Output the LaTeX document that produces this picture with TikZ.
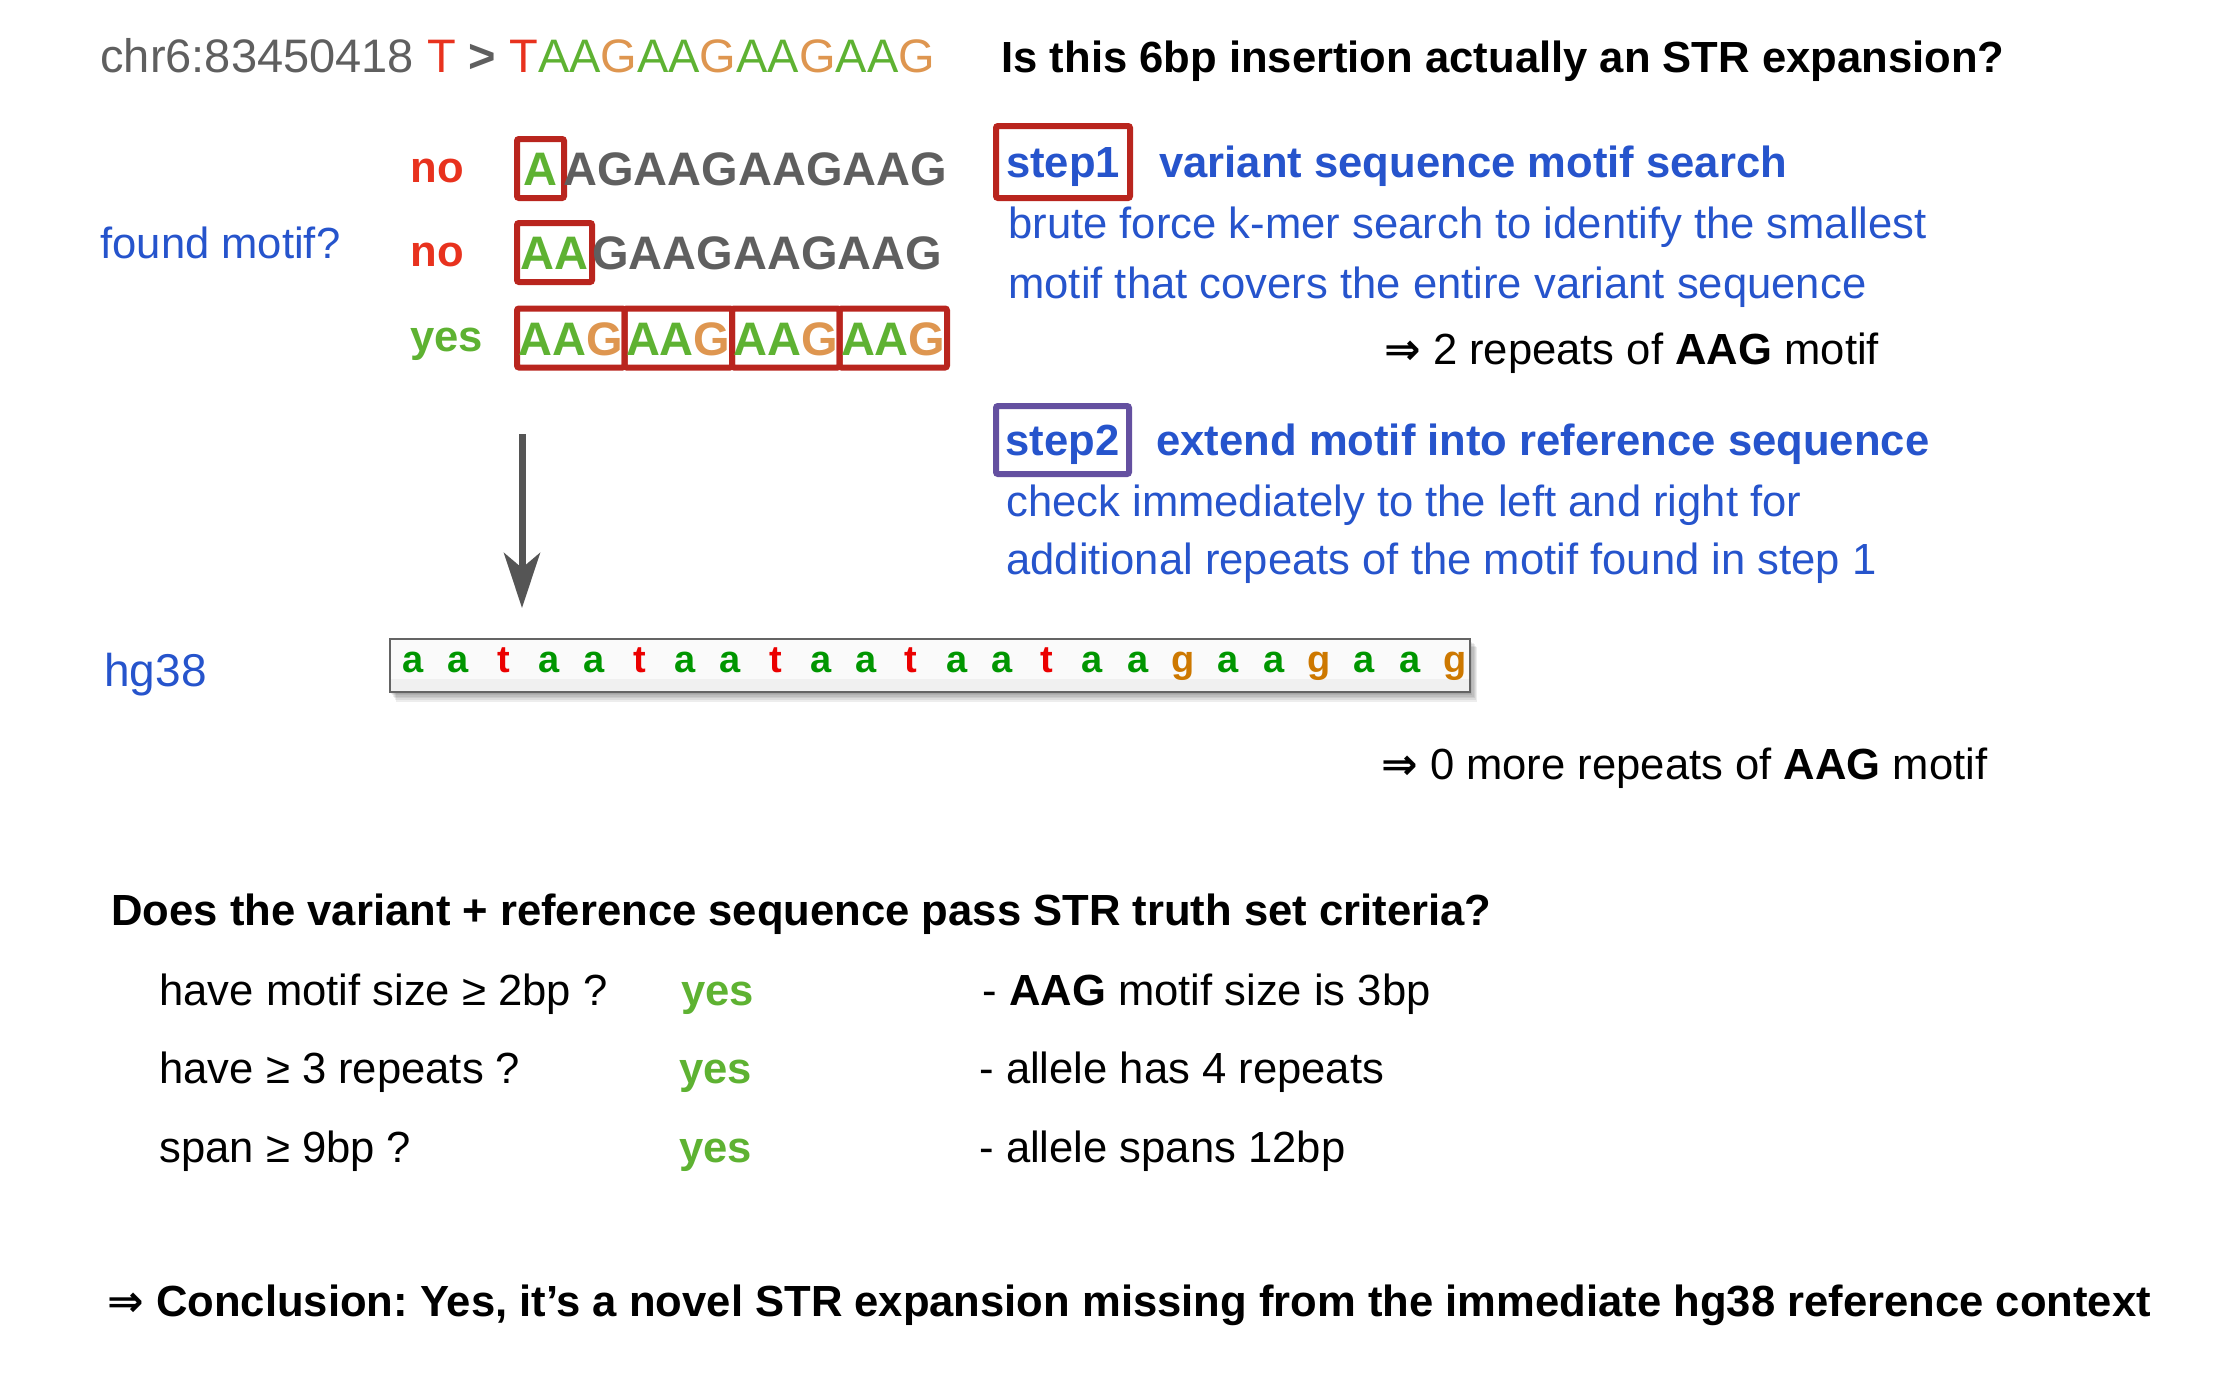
\documentclass[tikz,border=0pt]{standalone}
\usepackage{fontspec}
\setmainfont{Liberation Sans}
\newfontfamily\djv{DejaVu Sans}
\usetikzlibrary{arrows.meta}
\frenchspacing
\definecolor{gtext}{RGB}{95,95,95}
\definecolor{cred}{RGB}{232,50,30}
\definecolor{cgreen}{RGB}{94,178,50}
\definecolor{corange}{RGB}{222,150,80}
\definecolor{cblue}{RGB}{38,84,204}
\definecolor{boxred}{RGB}{185,37,30}
\definecolor{boxpurple}{RGB}{100,80,160}
\definecolor{arrgray}{RGB}{85,85,85}
\definecolor{refa}{RGB}{0,150,0}
\definecolor{reft}{RGB}{235,0,0}
\definecolor{refg}{RGB}{205,120,0}
\definecolor{refborder}{RGB}{100,100,100}
\newcommand{\gA}{\textcolor{cgreen}{A}}
\newcommand{\oG}{\textcolor{corange}{G}}
\newcommand{\implarrow}{{\djv\bfseries ⇒}}
\begin{document}
\begin{tikzpicture}[x=0.5pt,y=-0.5pt,
  txt/.style={inner sep=0pt, anchor=base west, font=\fontsize{21.8pt}{26pt}\selectfont},
  btxt/.style={txt, font=\fontsize{21.8pt}{26pt}\selectfont\bfseries},
  seq/.style={inner sep=0pt, anchor=base west, font=\fontsize{23.5pt}{28pt}\selectfont\bfseries},
  motbox/.style={draw=boxred, line width=3pt, rounded corners=1pt, inner sep=0pt,
    text height=17pt, text depth=0pt, minimum height=29.5pt,
    font=\fontsize{23.5pt}{28pt}\selectfont\bfseries},
  stepbox/.style={line width=3pt, rounded corners=1pt, inner sep=0pt,
    text height=16pt, text depth=1pt, text=cblue,
    font=\fontsize{21.8pt}{26pt}\selectfont\bfseries},
  reflet/.style={inner sep=0pt, anchor=base, font=\fontsize{19pt}{22pt}\selectfont\bfseries},
  shadowlayer/.style={fill=black, opacity=0.07},
  arr/.style={line width=3.5pt, draw=arrgray, -{Stealth[length=27.5pt, width=18pt, inset=7.5pt]}}
]
\useasboundingbox (0,0) rectangle (2232,1392);

% title line
\node[txt, font=\fontsize{23.5pt}{28pt}\selectfont] (var) at (100,72)
  {\textcolor{gtext}{chr6:83450418} \textcolor{cred}{T} \textcolor{gtext}{\bfseries >} \textcolor{cred}{T}\gA\gA\oG\gA\gA\oG\gA\gA\oG\gA\gA\oG};
\node[btxt] (quest) at (1001,72) {Is this 6bp insertion actually an STR expansion?};

% found motif
\node[txt, text=cblue] (found) at (100,258) {found motif?};
\node[btxt, text=cred] (no1) at (410,182) {no};
\node[btxt, text=cred] (no2) at (410,266) {no};
\node[btxt, text=cgreen] (yes0) at (410,351) {yes};

% row 1
\node[motbox, minimum width=23.5pt, text=cgreen] (r1box) at (540.5,168.5) {A};
\node[seq, text=gtext] (r1rest) at (563,185.5) {AGAAGAAGAAG};
% row 2
\node[motbox, minimum width=37.5pt, text=cgreen] (r2box) at (554.5,252.5) {AA};
\node[seq, text=gtext] (r2rest) at (592,269.5) {GAAGAAGAAG};
% row 3
\node[motbox, minimum width=53.75pt] (r3a) at (570.75,338) {\gA\gA\oG};
\node[motbox, minimum width=53.75pt] (r3b) at (678.25,338) {\gA\gA\oG};
\node[motbox, minimum width=53.75pt] (r3c) at (785.75,338) {\gA\gA\oG};
\node[motbox, minimum width=53.75pt] (r3d) at (893.25,338) {\gA\gA\oG};

% arrow
\coordinate (arrS) at (522,434);
\coordinate (arrE) at (522,608);
\draw[arr] (arrS) -- (arrE);

% step 1
\node[stepbox, draw=boxred, minimum width=67pt, minimum height=36pt] (s1) at (1063,162) {step1};
\node[btxt, text=cblue] (s1t) at (1159,177) {variant sequence motif search};
\node[txt, text=cblue] (s1a) at (1008,238) {brute force k-mer search to identify the smallest};
\node[txt, text=cblue] (s1b) at (1008,298) {motif that covers the entire variant sequence};
\node[txt] (s1r) at (1384,364) {\implarrow{} 2 repeats of \textbf{AAG} motif};

% step 2
\node[stepbox, draw=boxpurple, minimum width=66.5pt, minimum height=34pt] (s2) at (1062.5,440) {step2};
\node[btxt, text=cblue] (s2t) at (1156,455) {extend motif into reference sequence};
\node[txt, text=cblue] (s2a) at (1006,516) {check immediately to the left and right for};
\node[txt, text=cblue] (s2b) at (1006,574) {additional repeats of the motif found in step 1};

% reference
\node[txt, text=cblue, font=\fontsize{23pt}{27pt}\selectfont] (hg) at (104,686) {hg38};
\foreach \d in {1,2,3,4,5,6}
  \fill[shadowlayer] ({390+\d},{639+1.3*\d}) rectangle ({1470+1.2*\d},{692+1.6*\d});
\node[draw=refborder, line width=1pt, fill=black!2, minimum width=540pt, minimum height=26.5pt, inner sep=0pt] (ref) at (930,665.5) {};
\fill[black!6] (391,679) rectangle (1469,691);
\foreach \l/\c [count=\i from 0] in {a/refa,a/refa,t/reft,a/refa,a/refa,t/reft,a/refa,a/refa,t/reft,a/refa,a/refa,t/reft,a/refa,a/refa,t/reft,a/refa,a/refa,g/refg,a/refa,a/refa,g/refg,a/refa,a/refa,g/refg}
  \node[reflet, text=\c] (rl\i) at ({413+45.3*\i},672) {\l};
\node[txt] (zero) at (1381,779) {\implarrow{} 0 more repeats of \textbf{AAG} motif};

% criteria
\node[btxt] (crit) at (111,925) {Does the variant + reference sequence pass STR truth set criteria?};
\node[txt] (c1) at (159,1005) {have motif size ≥ 2bp ?};
\node[btxt, text=cgreen] (y1) at (681,1005) {yes};
\node[txt] (d1) at (982,1005) {- \textbf{AAG} motif size is 3bp};
\node[txt] (c2) at (159,1083) {have ≥ 3 repeats ?};
\node[btxt, text=cgreen] (y2) at (679,1083) {yes};
\node[txt] (d2) at (979,1083) {- allele has 4 repeats};
\node[txt] (c3) at (159,1162) {span ≥ 9bp ?};
\node[btxt, text=cgreen] (y3) at (679,1162) {yes};
\node[txt] (d3) at (979,1162) {- allele spans 12bp};

% conclusion
\node[btxt] (concl) at (107,1316) {\implarrow{} Conclusion: Yes, it’s a novel STR expansion missing from the immediate hg38 reference context};
\end{tikzpicture}
\end{document}
